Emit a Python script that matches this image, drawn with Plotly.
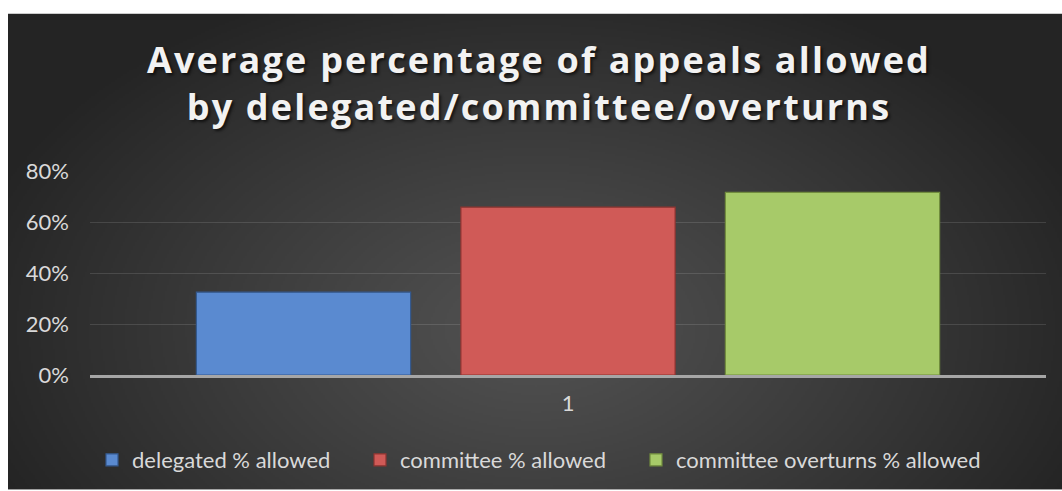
import base64
import struct
import zlib

import numpy as np
import plotly.graph_objects as go

# ---------------- data ----------------
categories = ["1"]
series_names = ["delegated % allowed", "committee % allowed", "committee overturns % allowed"]
delegated = [0.325]
committee = [0.658]
overturns = [0.716]
y_ticks = [0, 0.2, 0.4, 0.6, 0.8]
y_labels = ["0%", "20%", "40%", "60%", "80%"]

series_values = [delegated, committee, overturns]
fill_colors = ["#5a8ad0", "#d05a57", "#a7ca69"]
edge_colors = ["#34598f", "#8e3431", "#718c3e"]

# ---------------- geometry ----------------
W, H = 1062, 491
ML, MR, MT, MB = 90, 16, 171, 115
PW, PH = W - ML - MR, H - MT - MB
CHART_X0, CHART_Y0 = 8, 13  # white margin of the chart frame
LEGEND_X_PX = [92, 360, 636]
LEGEND_Y_PX = 460


def px_to_paper_x(px):
    return (px - ML) / PW


def px_to_paper_y(py):
    return (H - MB - py) / PH


# ---------------- gradient background (radial) ----------------
def make_gradient_png(w, h):
    yy, xx = np.mgrid[0:h, 0:w].astype(float)
    cx, cy = 0.5 * w, 0.66 * h
    t = np.sqrt(((xx - cx) / (0.56 * w)) ** 2 + ((yy - cy) / (0.78 * h)) ** 2)
    t = np.clip(t, 0, 1)
    v = 82 - 46 * t ** 1.1
    arr = np.clip(v, 0, 255).astype(np.uint8)
    rgb = np.stack([arr, arr, arr], axis=-1)
    raw = b"".join(b"\x00" + row.tobytes() for row in rgb)

    def chunk(tag, data):
        c = struct.pack(">I", len(data)) + tag + data
        return c + struct.pack(">I", zlib.crc32(tag + data) & 0xFFFFFFFF)

    png = (b"\x89PNG\r\n\x1a\n"
           + chunk(b"IHDR", struct.pack(">IIBBBBB", w, h, 8, 2, 0, 0, 0))
           + chunk(b"IDAT", zlib.compress(raw, 9))
           + chunk(b"IEND", b""))
    return "data:image/png;base64," + base64.b64encode(png).decode()


bg_w, bg_h = (W - CHART_X0) // 2, (H - CHART_Y0) // 2
bg_src = make_gradient_png(bg_w, bg_h)

# ---------------- figure ----------------
TEXT_FONT = "Lato"
TEXT_SIZE = 22
legend_ids = ["legend", "legend2", "legend3"]

fig = go.Figure()
for name, vals, fc, ec, lg in zip(series_names, series_values, fill_colors, edge_colors, legend_ids):
    fig.add_trace(go.Bar(
        x=categories, y=vals, name=name, legend=lg,
        marker=dict(color=fc, line=dict(color=ec, width=1.2)),
    ))

legend_common = dict(
    orientation="h", xanchor="left", yanchor="middle",
    y=px_to_paper_y(LEGEND_Y_PX),
    bgcolor="rgba(0,0,0,0)",
    font=dict(family=TEXT_FONT, size=TEXT_SIZE, color="#d9d9d9"),
    itemclick=False, itemdoubleclick=False,
)

fig.update_layout(
    width=W, height=H,
    margin=dict(l=ML, r=MR, t=MT, b=MB),
    paper_bgcolor="white",
    plot_bgcolor="rgba(0,0,0,0)",
    barmode="group",
    bargap=0.17,
    bargroupgap=0.19,
    font=dict(family=TEXT_FONT, size=TEXT_SIZE, color="#d9d9d9"),
    title=dict(
        text="Average percentage of appeals allowed<br>by delegated/committee/overturns",
        x=539 / W, xanchor="center",
        y=1 - 73 / H, yanchor="top",
        font=dict(family="Open Sans", size=36, color="#f2f2f2", weight="bold",
                  shadow="2px 2px 3px rgba(0,0,0,0.65)"),
    ),
    xaxis=dict(
        type="category",
        showline=True, linecolor="#a6a6a6", linewidth=2.5,
        showgrid=False, ticks="",
        ticklabelstandoff=7,
        tickfont=dict(size=TEXT_SIZE, color="#d9d9d9"),
    ),
    yaxis=dict(
        range=[0, 0.8],
        tickvals=y_ticks, ticktext=y_labels,
        showgrid=True, gridcolor="rgba(255,255,255,0.12)", gridwidth=1.2,
        zeroline=False, showline=False, ticks="",
        ticklabelstandoff=20,
        tickfont=dict(size=TEXT_SIZE, color="#d9d9d9"),
    ),
    legend=dict(x=px_to_paper_x(LEGEND_X_PX[0]), **legend_common),
    legend2=dict(x=px_to_paper_x(LEGEND_X_PX[1]), **legend_common),
    legend3=dict(x=px_to_paper_x(LEGEND_X_PX[2]), **legend_common),
    showlegend=True,
    images=[dict(
        source=bg_src,
        xref="paper", yref="paper",
        x=px_to_paper_x(CHART_X0), y=px_to_paper_y(CHART_Y0),
        sizex=(W - CHART_X0) / PW, sizey=(H - CHART_Y0) / PH,
        xanchor="left", yanchor="top",
        sizing="stretch", layer="below",
    )],
)

# letter-spaced title, like the original chart title
post_js = """
(function(){
  var gd = document.getElementById('{plot_id}');
  function spaceTitle(){
    gd.querySelectorAll('.gtitle').forEach(function(e){ e.style.letterSpacing = '2.2px'; });
  }
  spaceTitle();
  if (gd.on) { gd.on('plotly_afterplot', spaceTitle); }
})();
"""

fig.write_html("out.html", post_script=post_js)
